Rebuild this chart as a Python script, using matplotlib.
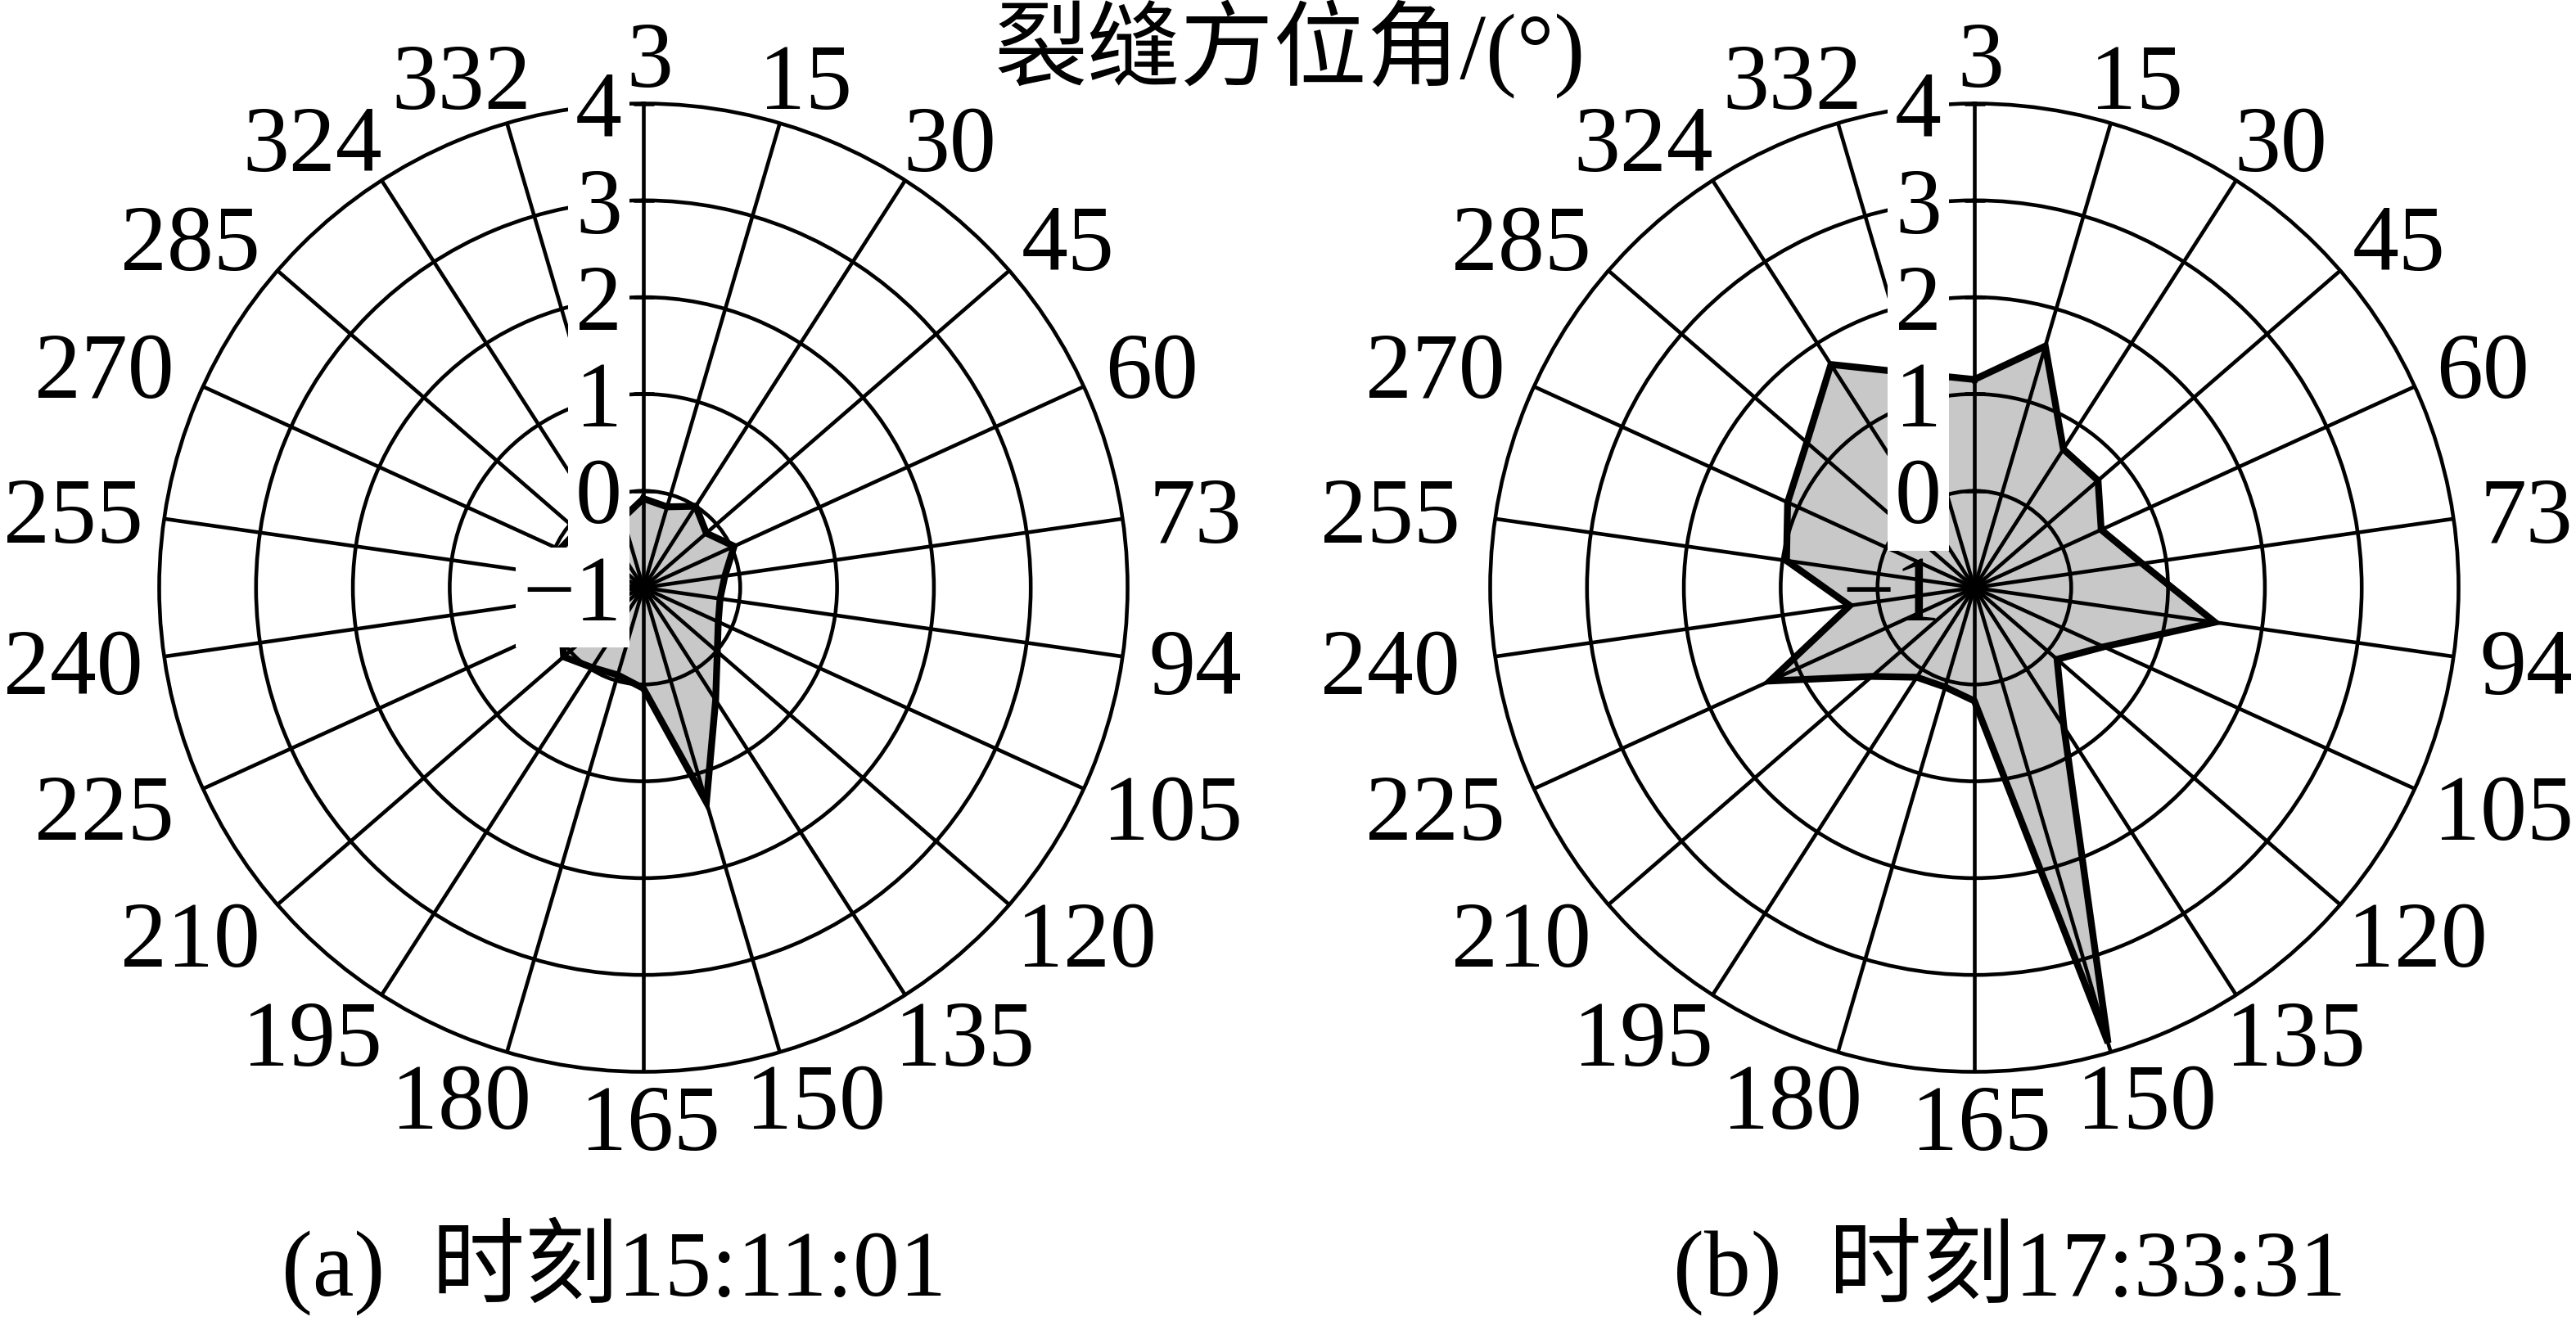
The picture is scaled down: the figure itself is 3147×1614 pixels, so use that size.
import numpy as np
import matplotlib.pyplot as plt

plt.rcParams['font.family'] = ['Liberation Serif', 'Noto Sans CJK SC']
plt.rcParams['font.size'] = 82

# azimuth categories (deg) and crack intensity for the two moments
labels = ['3', '15', '30', '45', '60', '73', '94', '105', '120', '135', '150',
          '165', '180', '195', '210', '225', '240', '255', '270', '285', '324', '332']
vals_a = [-0.08, -0.13, 0.00, -0.14, 0.03, -0.15, -0.20, -0.15, 0.01, 0.38, 1.31,
          0.04, -0.06, -0.02, 0.09, -0.07, -0.05, -0.10, -0.05, -0.10, -0.15, -0.25]
vals_b = [1.15, 1.60, 0.70, 0.69, 0.44, 0.75, 1.51, 0.47, 0.13, 0.71, 3.90,
          0.17, 0.07, 0.10, 0.40, 1.32, 0.30, 0.96, 1.12, 1.29, 1.74, 1.31]
rticks = [-1, 0, 1, 2, 3, 4]
rtick_labels = ['\u22121', '0', '1', '2', '3', '4']
title = '裂缝方位角/(°)'
subtitles = ['(a)  时刻15:11:01', '(b)  时刻17:33:31']

W, H = 3147, 1614
fig = plt.figure(figsize=(W / 100, H / 100), dpi=100)

R = 591.5
centers = [(786, 718), (2412, 718)]
label_shift = [-26, -40]
theta = np.arange(len(labels)) * 2 * np.pi / len(labels)

for k, vals in enumerate([vals_a, vals_b]):
    cx, cy = centers[k]
    ax = fig.add_axes([(cx - R) / W, (H - cy - R) / H, 2 * R / W, 2 * R / H],
                      projection='polar')
    ax.set_theta_zero_location('N')
    ax.set_theta_direction(-1)
    ax.set_ylim(-1, 4)
    ax.set_xticks(theta)
    ax.set_xticklabels([])
    ax.set_yticks([0, 1, 2, 3])
    ax.set_yticklabels([])
    ax.set_axisbelow(False)
    ax.grid(True, color='black', lw=3.3)
    ax.spines['polar'].set_linewidth(3.3)
    ax.tick_params(length=0)

    tt = np.append(theta, theta[0])
    vv = np.append(vals, vals[0])
    ax.fill(tt, vv, color='#c8c8c8', zorder=1)
    ax.plot(tt, vv, color='black', lw=6, zorder=3, solid_joinstyle='miter')

    # radial value labels along the top spoke
    for v, s in zip(rticks, rtick_labels):
        box = dict(boxstyle='square,pad=0.08', fc='white', ec='none')
        if k == 1 and v == -1:
            box = None
        ax.annotate(s, xy=(0, v), xytext=(label_shift[k], -12),
                    textcoords='offset pixels', ha='right', va='center',
                    zorder=5, annotation_clip=False, bbox=box)
        ax.plot([0], [v], marker='_', ms=18, mew=3.3, color='black', zorder=6,
                clip_on=False)

    # azimuth labels around the outer ring
    for th, lab in zip(theta, labels):
        s, c = np.sin(th), np.cos(th)
        half_w = len(lab) * 27
        x0 = -6 if abs(s) > 0.01 else 8
        dx = 42 * s + half_w * np.sign(s) * abs(s) ** 0.6 + x0
        # keep the text inside the figure
        min_x = len(lab) * 29 + 2
        dx = max(dx, min_x - (cx + R * s))
        dy = 58 * c - 10
        ax.annotate(lab, xy=(th, 4), xytext=(dx, dy),
                    textcoords='offset pixels', ha='center', va='center',
                    annotation_clip=False)

fig.text(1576 / W, 1 - 60 / H, title, ha='center', va='center')
fig.text(750 / W, 1 - 1547 / H, subtitles[0], ha='center', va='center')
fig.text(2455 / W, 1 - 1547 / H, subtitles[1], ha='center', va='center')

fig.savefig('out.png', dpi=100, facecolor='white')
